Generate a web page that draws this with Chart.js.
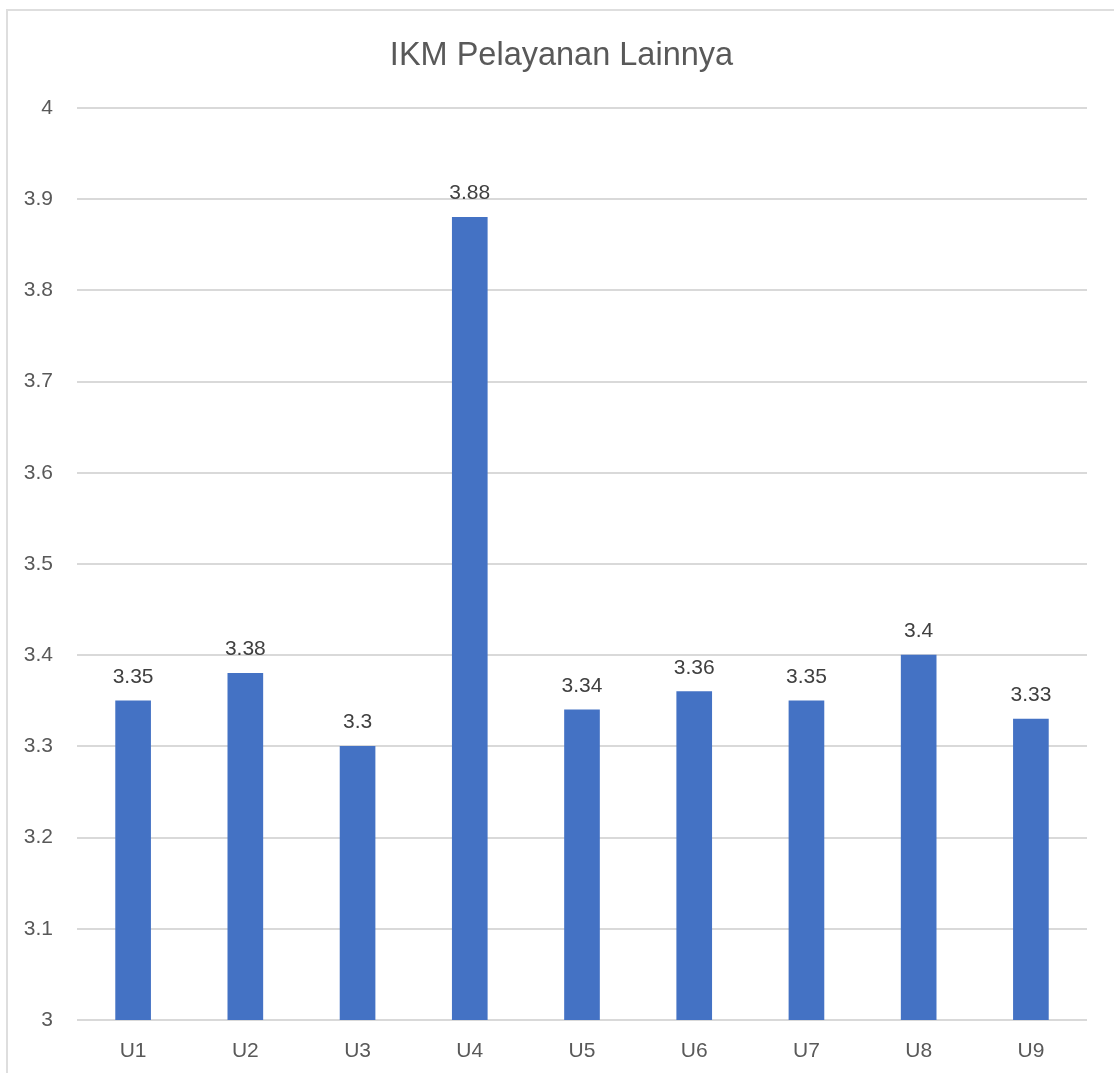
<!DOCTYPE html>
<html>
<head>
<meta charset="utf-8">
<script src="https://cdn.jsdelivr.net/npm/chart.js@4/dist/chart.umd.min.js"></script>
<style>
  html, body { margin: 0; padding: 0; background: #ffffff; }
  #wrap { position: relative; width: 1114px; height: 1073px; overflow: hidden; }
  #frame { position: absolute; left: 6px; top: 9px; width: 1200px; height: 1200px; border: 2px solid #dedede; box-sizing: border-box; }
  canvas { position: absolute; left: 0; top: 0; }
</style>
</head>
<body>
<div id="wrap">
  <div id="frame"></div>
  <canvas id="c" width="1114" height="1073"></canvas>
</div>
<script>
const chartTitle = "IKM Pelayanan Lainnya";
const categories = ["U1", "U2", "U3", "U4", "U5", "U6", "U7", "U8", "U9"];
const values = [3.35, 3.38, 3.3, 3.88, 3.34, 3.36, 3.35, 3.4, 3.33];
const yMin = 3;
const yMax = 4;
const yStep = 0.1;

const FONT = "'Liberation Sans', Arial, sans-serif";

const valueLabels = {
  id: 'valueLabels',
  afterDatasetsDraw(chart) {
    const ctx = chart.ctx;
    const meta = chart.getDatasetMeta(0);
    ctx.save();
    ctx.fillStyle = '#404040';
    ctx.font = '21px ' + FONT;
    ctx.textAlign = 'center';
    ctx.textBaseline = 'alphabetic';
    meta.data.forEach((bar, i) => {
      const v = chart.data.datasets[0].data[i];
      ctx.fillText(String(v), bar.x, bar.y - 18);
    });
    ctx.restore();
  }
};

const frameTitle = {
  id: 'frameTitle',
  afterDraw(chart) {
    const ctx = chart.ctx;
    ctx.save();
    ctx.fillStyle = '#595959';
    ctx.font = '32.5px ' + FONT;
    ctx.textAlign = 'center';
    ctx.textBaseline = 'alphabetic';
    ctx.fillText(chartTitle, 561.5, 65);
    ctx.restore();
  }
};

new Chart(document.getElementById('c'), {
  type: 'bar',
  data: {
    labels: categories,
    datasets: [{
      data: values,
      backgroundColor: '#4472C4',
      borderWidth: 0,
      barThickness: 35
    }]
  },
  options: {
    responsive: false,
    animation: false,
    layout: { padding: { left: 0, right: 27, top: 108, bottom: 0 } },
    plugins: {
      legend: { display: false },
      tooltip: { enabled: false },
      title: { display: false }
    },
    scales: {
      x: {
        grid: { display: false, drawTicks: false },
        border: { display: false },
        ticks: { color: '#595959', font: { family: FONT, size: 21 }, padding: 19 },
        afterFit(scale) { scale.height = 53; }
      },
      y: {
        min: yMin,
        max: yMax,
        grid: { color: '#d9d9d9', lineWidth: 2, drawTicks: false },
        border: { display: false },
        ticks: {
          stepSize: yStep,
          color: '#595959',
          font: { family: FONT, size: 21 },
          padding: 24,
          callback: (v) => String(Math.round(v * 10) / 10)
        },
        afterFit(scale) { scale.width = 77; }
      }
    }
  },
  plugins: [valueLabels, frameTitle]
});
</script>
</body>
</html>
